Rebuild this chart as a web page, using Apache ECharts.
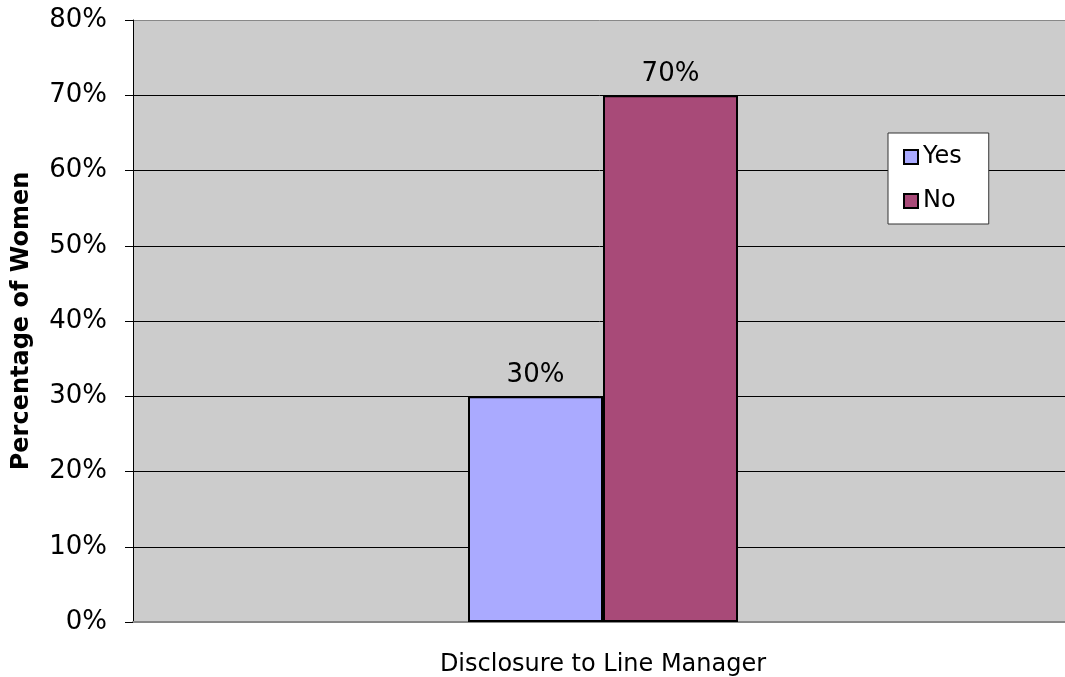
<!DOCTYPE html>
<html><head><meta charset="utf-8">
<script src="https://cdn.jsdelivr.net/npm/echarts@6/dist/echarts.min.js"></script>
<style>html,body{margin:0;padding:0;background:#fff}#c{width:1065px;height:677px}</style>
</head><body><div id="c"></div>
<script>
const categories = ['Disclosure to Line Manager'];
const yesValues = [30];
const noValues = [70];
const yTicks = [0,10,20,30,40,50,60,70,80];

const F = 'DejaVu Sans, Verdana, sans-serif';
const chart = echarts.init(document.getElementById('c'));
chart.setOption({
  animation: false,
  backgroundColor: '#fff',
  grid: { left: 133, right: -8, top: 20, bottom: 55, outerBoundsMode: 'none', containLabel: false,
    show: true, backgroundColor: '#cccccc', borderWidth: 0 },
  legend: {
    data: ['Yes','No'], orient: 'vertical', left: 888, top: 133,
    backgroundColor: '#fff', borderColor: '#333', borderWidth: 1,
    padding: [12, 27, 11, 15], itemGap: 20, itemWidth: 14, itemHeight: 14, icon: 'rect',
    itemStyle: { borderColor: '#000', borderWidth: 2 },
    textStyle: { fontFamily: F, fontSize: 24, color: '#000', lineHeight: 20 }
  },
  xAxis: {
    type: 'category', data: categories,
    axisLine: { lineStyle: { color: '#888', width: 2 } },
    axisTick: { show: false },
    axisLabel: { fontFamily: F, fontSize: 24, color: '#000', margin: 31 }
  },
  yAxis: {
    type: 'value', min: 0, max: 80, interval: 10,
    name: 'Percentage of Women', nameLocation: 'middle', nameGap: 99,
    nameTextStyle: { fontFamily: F, fontSize: 24, fontWeight: 'bold', color: '#000' },
    axisLine: { show: true, lineStyle: { color: '#000', width: 1 } },
    axisTick: { show: true, length: 8, lineStyle: { color: '#000' } },
    axisLabel: { fontFamily: F, fontSize: 26, color: '#000', margin: 26,
      formatter: v => yTicks.includes(v) ? v + '%' : '' },
    splitLine: { show: true, lineStyle: { color: ['#000','#000','#000','#000','#000','#000','#000','#000','#888'], width: 1 } }
  },
  series: [
    { name: 'Yes', type: 'bar', data: yesValues, barWidth: 135, barGap: '0%',
      itemStyle: { color: '#aaaaff', borderColor: '#000', borderWidth: 2 },
      label: { show: true, position: 'top', distance: 8, formatter: '{c}%', fontFamily: F, fontSize: 26, color: '#000' } },
    { name: 'No', type: 'bar', data: noValues, barWidth: 135, barGap: '0%',
      itemStyle: { color: '#a84a78', borderColor: '#000', borderWidth: 2 },
      label: { show: true, position: 'top', distance: 8, formatter: '{c}%', fontFamily: F, fontSize: 26, color: '#000' } }
  ]
});
</script></body></html>
